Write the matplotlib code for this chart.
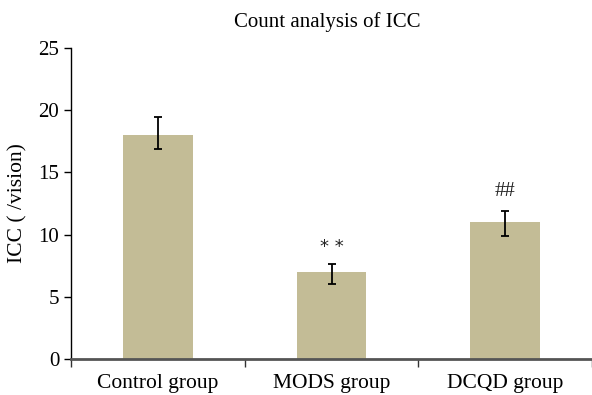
import matplotlib
matplotlib.use("Agg")
import matplotlib.pyplot as plt
import numpy as np

categories = ["Control group", "MODS group", "DCQD group"]
values = [18.0, 7.0, 11.0]
err_lower = [1.1, 1.0, 1.1]
err_upper = [1.45, 0.65, 0.9]
annotations = ["", "* *", "##"]
annot_y = [None, 9.0, 13.45]
yticks = [0, 5, 10, 15, 20, 25]

plt.rcParams['font.family'] = ['Liberation Serif', 'DejaVu Serif']

fig = plt.figure(figsize=(5.92, 3.95), dpi=100)
ax = fig.add_axes([71/592, 36/395, 1 - 71/592, (359-48)/395])

x = np.arange(len(categories))
ax.bar(x, values, width=0.40, color="#C3BC96", zorder=2)
ax.errorbar(x, values, yerr=[err_lower, err_upper], fmt="none", ecolor="black",
            elinewidth=1.3, capsize=3.2, capthick=1.3, zorder=3)
for xi, t, yy in zip(x, annotations, annot_y):
    if t:
        ax.text(xi, yy, t, ha="center", va="center",
                fontsize=13 if t.startswith("*") else 15, color="#222222",
                family=["DejaVu Sans"] if t.startswith("*") else None)

ax.set_xlim(-0.5, 2.5)
ax.set_ylim(0, 25)
ax.set_yticks(yticks)
ax.set_xticks(x)
ax.set_xticklabels(categories, fontsize=15.5)
ax.tick_params(axis="x", length=0, pad=11)
ax.set_xticks([-0.5, 0.5, 1.5, 2.5], minor=True)
ax.tick_params(axis="x", which="minor", length=6, width=1, color="#333333", direction="out")
ax.tick_params(axis="y", labelsize=15, length=5, width=1, direction="out")
for s in ["top", "right"]:
    ax.spines[s].set_visible(False)
ax.spines["left"].set_color("black")
ax.spines["left"].set_linewidth(1)
ax.spines["bottom"].set_color("#555555")
ax.spines["bottom"].set_linewidth(2)
ax.set_ylabel("ICC ( /vision)", fontsize=15.5, labelpad=8)
fig.text(327/592, 1 - 22/395, "Count analysis of ICC", ha="center", va="center", fontsize=15)

fig.savefig("out.png", dpi=100)
